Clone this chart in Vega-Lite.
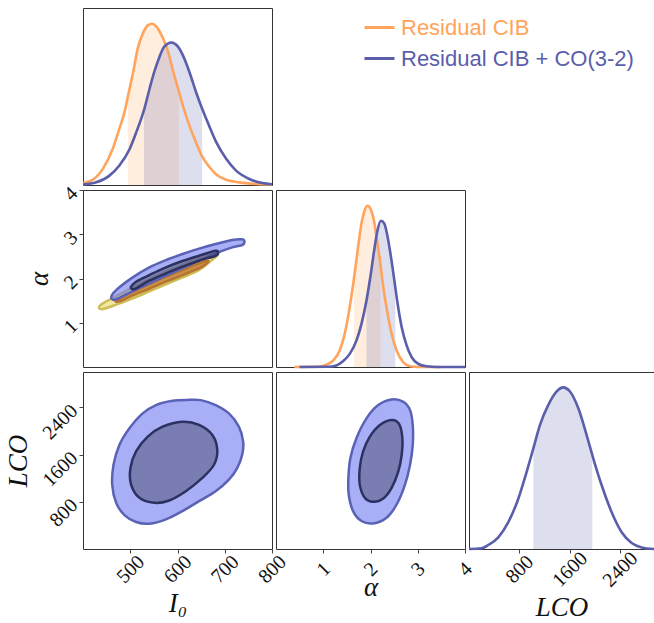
{
"$schema":"https://vega.github.io/schema/vega-lite/v6.json",
"padding":{"left":4,"top":7,"right":0,"bottom":0},
"background":"white",
"columns":3,
"bounds":"flush",
"spacing":{"row":5,"column":4},
"datasets":{
"m_i0":[
{"s":"Residual CIB","x":400,"d":0.011},{"s":"Residual CIB","x":421,"d":0.030},{"s":"Residual CIB","x":442,"d":0.091},{"s":"Residual CIB","x":463,"d":0.205},{"s":"Residual CIB","x":477,"d":0.318},{"s":"Residual CIB","x":488,"d":0.413},{"s":"Residual CIB","x":495,"d":0.50},{"s":"Residual CIB","x":506,"d":0.635},{"s":"Residual CIB","x":516,"d":0.773},{"s":"Residual CIB","x":527,"d":0.858},{"s":"Residual CIB","x":537,"d":0.902},{"s":"Residual CIB","x":546,"d":0.911},{"s":"Residual CIB","x":555,"d":0.896},{"s":"Residual CIB","x":569,"d":0.830},{"s":"Residual CIB","x":580,"d":0.754},{"s":"Residual CIB","x":590,"d":0.650},{"s":"Residual CIB","x":603,"d":0.527},{"s":"Residual CIB","x":611,"d":0.451},{"s":"Residual CIB","x":625,"d":0.337},{"s":"Residual CIB","x":639,"d":0.242},{"s":"Residual CIB","x":653,"d":0.157},{"s":"Residual CIB","x":668,"d":0.100},{"s":"Residual CIB","x":682,"d":0.059},{"s":"Residual CIB","x":703,"d":0.030},{"s":"Residual CIB","x":731,"d":0.015},{"s":"Residual CIB","x":766,"d":0.006},{"s":"Residual CIB","x":800,"d":0.002},
{"s":"Residual CIB + CO(3-2)","x":400,"d":0.002},{"s":"Residual CIB + CO(3-2)","x":428,"d":0.015},{"s":"Residual CIB + CO(3-2)","x":456,"d":0.053},{"s":"Residual CIB + CO(3-2)","x":477,"d":0.11},{"s":"Residual CIB + CO(3-2)","x":499,"d":0.205},{"s":"Residual CIB + CO(3-2)","x":513,"d":0.30},{"s":"Residual CIB + CO(3-2)","x":530,"d":0.432},{"s":"Residual CIB + CO(3-2)","x":541,"d":0.545},{"s":"Residual CIB + CO(3-2)","x":551,"d":0.640},{"s":"Residual CIB + CO(3-2)","x":562,"d":0.725},{"s":"Residual CIB + CO(3-2)","x":572,"d":0.782},{"s":"Residual CIB + CO(3-2)","x":587,"d":0.805},{"s":"Residual CIB + CO(3-2)","x":601,"d":0.782},{"s":"Residual CIB + CO(3-2)","x":611,"d":0.735},{"s":"Residual CIB + CO(3-2)","x":625,"d":0.640},{"s":"Residual CIB + CO(3-2)","x":639,"d":0.527},{"s":"Residual CIB + CO(3-2)","x":652,"d":0.432},{"s":"Residual CIB + CO(3-2)","x":668,"d":0.328},{"s":"Residual CIB + CO(3-2)","x":682,"d":0.242},{"s":"Residual CIB + CO(3-2)","x":703,"d":0.148},{"s":"Residual CIB + CO(3-2)","x":724,"d":0.081},{"s":"Residual CIB + CO(3-2)","x":752,"d":0.034},{"s":"Residual CIB + CO(3-2)","x":780,"d":0.011},{"s":"Residual CIB + CO(3-2)","x":800,"d":0.004}
],
"b_i0":[
{"s":"Residual CIB","x":495,"d":0.50},{"s":"Residual CIB","x":506,"d":0.635},{"s":"Residual CIB","x":516,"d":0.773},{"s":"Residual CIB","x":527,"d":0.858},{"s":"Residual CIB","x":537,"d":0.902},{"s":"Residual CIB","x":546,"d":0.911},{"s":"Residual CIB","x":555,"d":0.896},{"s":"Residual CIB","x":569,"d":0.830},{"s":"Residual CIB","x":580,"d":0.754},{"s":"Residual CIB","x":590,"d":0.650},{"s":"Residual CIB","x":603,"d":0.527},
{"s":"Residual CIB + CO(3-2)","x":529,"d":0.425},{"s":"Residual CIB + CO(3-2)","x":541,"d":0.545},{"s":"Residual CIB + CO(3-2)","x":551,"d":0.640},{"s":"Residual CIB + CO(3-2)","x":562,"d":0.725},{"s":"Residual CIB + CO(3-2)","x":572,"d":0.782},{"s":"Residual CIB + CO(3-2)","x":587,"d":0.805},{"s":"Residual CIB + CO(3-2)","x":601,"d":0.782},{"s":"Residual CIB + CO(3-2)","x":611,"d":0.735},{"s":"Residual CIB + CO(3-2)","x":625,"d":0.640},{"s":"Residual CIB + CO(3-2)","x":639,"d":0.527},{"s":"Residual CIB + CO(3-2)","x":652,"d":0.432}
],
"m_al":[
{"s":"Residual CIB","x":0.39,"d":0},{"s":"Residual CIB","x":0.9,"d":0.001},{"s":"Residual CIB","x":1.064,"d":0.013},{"s":"Residual CIB","x":1.206,"d":0.036},{"s":"Residual CIB","x":1.348,"d":0.093},{"s":"Residual CIB","x":1.454,"d":0.187},{"s":"Residual CIB","x":1.560,"d":0.338},{"s":"Residual CIB","x":1.645,"d":0.490},{"s":"Residual CIB","x":1.738,"d":0.679},{"s":"Residual CIB","x":1.809,"d":0.811},{"s":"Residual CIB","x":1.879,"d":0.887},{"s":"Residual CIB","x":1.936,"d":0.911},{"s":"Residual CIB","x":2.007,"d":0.890},{"s":"Residual CIB","x":2.071,"d":0.830},{"s":"Residual CIB","x":2.128,"d":0.735},{"s":"Residual CIB","x":2.199,"d":0.603},{"s":"Residual CIB","x":2.270,"d":0.452},{"s":"Residual CIB","x":2.362,"d":0.301},{"s":"Residual CIB","x":2.447,"d":0.187},{"s":"Residual CIB","x":2.553,"d":0.093},{"s":"Residual CIB","x":2.695,"d":0.026},{"s":"Residual CIB","x":2.837,"d":0.004},{"s":"Residual CIB","x":3.0,"d":0},{"s":"Residual CIB","x":3.5,"d":0},
{"s":"Residual CIB + CO(3-2)","x":0.5,"d":0},{"s":"Residual CIB + CO(3-2)","x":1.1,"d":0.001},{"s":"Residual CIB + CO(3-2)","x":1.277,"d":0.009},{"s":"Residual CIB + CO(3-2)","x":1.418,"d":0.032},{"s":"Residual CIB + CO(3-2)","x":1.560,"d":0.074},{"s":"Residual CIB + CO(3-2)","x":1.702,"d":0.149},{"s":"Residual CIB + CO(3-2)","x":1.809,"d":0.244},{"s":"Residual CIB + CO(3-2)","x":1.915,"d":0.376},{"s":"Residual CIB + CO(3-2)","x":2.007,"d":0.527},{"s":"Residual CIB + CO(3-2)","x":2.078,"d":0.660},{"s":"Residual CIB + CO(3-2)","x":2.149,"d":0.773},{"s":"Residual CIB + CO(3-2)","x":2.220,"d":0.826},{"s":"Residual CIB + CO(3-2)","x":2.291,"d":0.811},{"s":"Residual CIB + CO(3-2)","x":2.362,"d":0.735},{"s":"Residual CIB + CO(3-2)","x":2.433,"d":0.622},{"s":"Residual CIB + CO(3-2)","x":2.504,"d":0.490},{"s":"Residual CIB + CO(3-2)","x":2.574,"d":0.357},{"s":"Residual CIB + CO(3-2)","x":2.660,"d":0.225},{"s":"Residual CIB + CO(3-2)","x":2.766,"d":0.121},{"s":"Residual CIB + CO(3-2)","x":2.872,"d":0.055},{"s":"Residual CIB + CO(3-2)","x":3.014,"d":0.017},{"s":"Residual CIB + CO(3-2)","x":3.191,"d":0.004},{"s":"Residual CIB + CO(3-2)","x":3.4,"d":0},{"s":"Residual CIB + CO(3-2)","x":4.0,"d":0}
],
"b_al":[
{"s":"Residual CIB","x":1.652,"d":0.503},{"s":"Residual CIB","x":1.738,"d":0.679},{"s":"Residual CIB","x":1.809,"d":0.811},{"s":"Residual CIB","x":1.879,"d":0.887},{"s":"Residual CIB","x":1.936,"d":0.911},{"s":"Residual CIB","x":2.007,"d":0.890},{"s":"Residual CIB","x":2.071,"d":0.830},{"s":"Residual CIB","x":2.128,"d":0.735},{"s":"Residual CIB","x":2.213,"d":0.575},
{"s":"Residual CIB + CO(3-2)","x":1.915,"d":0.376},{"s":"Residual CIB + CO(3-2)","x":2.007,"d":0.527},{"s":"Residual CIB + CO(3-2)","x":2.078,"d":0.660},{"s":"Residual CIB + CO(3-2)","x":2.149,"d":0.773},{"s":"Residual CIB + CO(3-2)","x":2.220,"d":0.826},{"s":"Residual CIB + CO(3-2)","x":2.291,"d":0.811},{"s":"Residual CIB + CO(3-2)","x":2.362,"d":0.735},{"s":"Residual CIB + CO(3-2)","x":2.433,"d":0.622},{"s":"Residual CIB + CO(3-2)","x":2.504,"d":0.490},{"s":"Residual CIB + CO(3-2)","x":2.525,"d":0.452}
],
"m_l":[
{"s":"Residual CIB + CO(3-2)","x":0,"d":0},{"s":"Residual CIB + CO(3-2)","x":201,"d":0.004},{"s":"Residual CIB + CO(3-2)","x":307,"d":0.023},{"s":"Residual CIB + CO(3-2)","x":466,"d":0.066},{"s":"Residual CIB + CO(3-2)","x":625,"d":0.152},{"s":"Residual CIB + CO(3-2)","x":784,"d":0.284},{"s":"Residual CIB + CO(3-2)","x":917,"d":0.436},{"s":"Residual CIB + CO(3-2)","x":1023,"d":0.568},{"s":"Residual CIB + CO(3-2)","x":1129,"d":0.701},{"s":"Residual CIB + CO(3-2)","x":1261,"d":0.814},{"s":"Residual CIB + CO(3-2)","x":1394,"d":0.890},{"s":"Residual CIB + CO(3-2)","x":1499,"d":0.913},{"s":"Residual CIB + CO(3-2)","x":1605,"d":0.890},{"s":"Residual CIB + CO(3-2)","x":1738,"d":0.795},{"s":"Residual CIB + CO(3-2)","x":1870,"d":0.644},{"s":"Residual CIB + CO(3-2)","x":1976,"d":0.511},{"s":"Residual CIB + CO(3-2)","x":2109,"d":0.360},{"s":"Residual CIB + CO(3-2)","x":2268,"d":0.208},{"s":"Residual CIB + CO(3-2)","x":2427,"d":0.095},{"s":"Residual CIB + CO(3-2)","x":2586,"d":0.034},{"s":"Residual CIB + CO(3-2)","x":2744,"d":0.009},{"s":"Residual CIB + CO(3-2)","x":2941,"d":0.0}
],
"b_l":[
{"s":"Residual CIB + CO(3-2)","x":1023,"d":0.568},{"s":"Residual CIB + CO(3-2)","x":1129,"d":0.701},{"s":"Residual CIB + CO(3-2)","x":1261,"d":0.814},{"s":"Residual CIB + CO(3-2)","x":1394,"d":0.890},{"s":"Residual CIB + CO(3-2)","x":1499,"d":0.913},{"s":"Residual CIB + CO(3-2)","x":1605,"d":0.890},{"s":"Residual CIB + CO(3-2)","x":1738,"d":0.795},{"s":"Residual CIB + CO(3-2)","x":1870,"d":0.644},{"s":"Residual CIB + CO(3-2)","x":1960,"d":0.53}
],
"c_ia":[
{"c":"o2","x":433.7,"y":1.347},{"c":"o2","x":442.1,"y":1.438},{"c":"o2","x":470.2,"y":1.604},{"c":"o2","x":505.3,"y":1.800},{"c":"o2","x":540.4,"y":1.980},{"c":"o2","x":575.5,"y":2.154},{"c":"o2","x":610.5,"y":2.312},{"c":"o2","x":645.6,"y":2.455},{"c":"o2","x":677.2,"y":2.553},{"c":"o2","x":684.2,"y":2.530},{"c":"o2","x":677.2,"y":2.455},{"c":"o2","x":645.6,"y":2.191},{"c":"o2","x":610.5,"y":2.026},{"c":"o2","x":575.5,"y":1.867},{"c":"o2","x":540.4,"y":1.709},{"c":"o2","x":505.3,"y":1.551},{"c":"o2","x":470.2,"y":1.408},{"c":"o2","x":442.1,"y":1.310},
{"c":"o1","x":470.2,"y":1.513},{"c":"o1","x":505.3,"y":1.702},{"c":"o1","x":540.4,"y":1.875},{"c":"o1","x":575.5,"y":2.041},{"c":"o1","x":610.5,"y":2.191},{"c":"o1","x":645.6,"y":2.342},{"c":"o1","x":665.3,"y":2.402},{"c":"o1","x":652.6,"y":2.267},{"c":"o1","x":610.5,"y":2.078},{"c":"o1","x":575.5,"y":1.928},{"c":"o1","x":540.4,"y":1.769},{"c":"o1","x":505.3,"y":1.619},{"c":"o1","x":477.2,"y":1.483},
{"c":"b2","x":459.7,"y":1.573},{"c":"b2","x":470.2,"y":1.739},{"c":"b2","x":505.3,"y":2.026},{"c":"b2","x":540.4,"y":2.252},{"c":"b2","x":575.5,"y":2.417},{"c":"b2","x":610.5,"y":2.553},{"c":"b2","x":645.6,"y":2.674},{"c":"b2","x":680.7,"y":2.779},{"c":"b2","x":715.8,"y":2.870},{"c":"b2","x":736.9,"y":2.885},{"c":"b2","x":741.8,"y":2.832},{"c":"b2","x":736.9,"y":2.757},{"c":"b2","x":715.8,"y":2.704},{"c":"b2","x":680.7,"y":2.568},{"c":"b2","x":645.6,"y":2.402},{"c":"b2","x":610.5,"y":2.237},{"c":"b2","x":575.5,"y":2.063},{"c":"b2","x":540.4,"y":1.890},{"c":"b2","x":505.3,"y":1.717},{"c":"b2","x":470.2,"y":1.528},
{"c":"b1","x":501.8,"y":1.815},{"c":"b1","x":512.3,"y":1.928},{"c":"b1","x":540.4,"y":2.078},{"c":"b1","x":575.5,"y":2.252},{"c":"b1","x":610.5,"y":2.395},{"c":"b1","x":645.6,"y":2.515},{"c":"b1","x":680.7,"y":2.628},{"c":"b1","x":685.6,"y":2.568},{"c":"b1","x":680.7,"y":2.515},{"c":"b1","x":645.6,"y":2.402},{"c":"b1","x":610.5,"y":2.267},{"c":"b1","x":575.5,"y":2.116},{"c":"b1","x":540.4,"y":1.950},{"c":"b1","x":512.3,"y":1.777},{"c":"b1","x":503.9,"y":1.762}
],
"c_il":[
{"c":"b2","x":680.7,"y":2439},{"c":"b2","x":708.8,"y":2298},{"c":"b2","x":729.8,"y":2074},{"c":"b2","x":739.0,"y":1821},{"c":"b2","x":736.9,"y":1597},{"c":"b2","x":726.3,"y":1372},{"c":"b2","x":708.8,"y":1175},{"c":"b2","x":680.7,"y":979},{"c":"b2","x":645.6,"y":811},{"c":"b2","x":610.5,"y":642},{"c":"b2","x":575.5,"y":502},{"c":"b2","x":540.4,"y":429},{"c":"b2","x":512.3,"y":457},{"c":"b2","x":487.7,"y":575},{"c":"b2","x":470.2,"y":782},{"c":"b2","x":461.8,"y":1091},{"c":"b2","x":464.6,"y":1428},{"c":"b2","x":477.2,"y":1765},{"c":"b2","x":498.3,"y":2046},{"c":"b2","x":526.3,"y":2298},{"c":"b2","x":554.4,"y":2439},{"c":"b2","x":589.5,"y":2512},{"c":"b2","x":624.6,"y":2528},{"c":"b2","x":649.1,"y":2523},
{"c":"b1","x":610.5,"y":2158},{"c":"b1","x":645.6,"y":2102},{"c":"b1","x":673.7,"y":1933},{"c":"b1","x":684.2,"y":1681},{"c":"b1","x":677.2,"y":1428},{"c":"b1","x":652.6,"y":1204},{"c":"b1","x":617.6,"y":979},{"c":"b1","x":582.5,"y":822},{"c":"b1","x":550.9,"y":782},{"c":"b1","x":519.3,"y":867},{"c":"b1","x":501.8,"y":1091},{"c":"b1","x":500.4,"y":1372},{"c":"b1","x":512.3,"y":1653},{"c":"b1","x":536.9,"y":1905},{"c":"b1","x":568.4,"y":2074}
],
"c_al":[
{"c":"b2","x":2.447,"y":2534},{"c":"b2","x":2.695,"y":2495},{"c":"b2","x":2.837,"y":2354},{"c":"b2","x":2.894,"y":2102},{"c":"b2","x":2.894,"y":1765},{"c":"b2","x":2.837,"y":1428},{"c":"b2","x":2.730,"y":1091},{"c":"b2","x":2.553,"y":754},{"c":"b2","x":2.340,"y":530},{"c":"b2","x":2.057,"y":434},{"c":"b2","x":1.809,"y":474},{"c":"b2","x":1.631,"y":642},{"c":"b2","x":1.539,"y":923},{"c":"b2","x":1.532,"y":1204},{"c":"b2","x":1.574,"y":1540},{"c":"b2","x":1.702,"y":1877},{"c":"b2","x":1.915,"y":2214},{"c":"b2","x":2.163,"y":2439},
{"c":"b1","x":2.447,"y":2186},{"c":"b1","x":2.610,"y":2113},{"c":"b1","x":2.674,"y":1877},{"c":"b1","x":2.660,"y":1597},{"c":"b1","x":2.589,"y":1316},{"c":"b1","x":2.447,"y":1035},{"c":"b1","x":2.270,"y":855},{"c":"b1","x":2.057,"y":799},{"c":"b1","x":1.879,"y":867},{"c":"b1","x":1.773,"y":1091},{"c":"b1","x":1.773,"y":1372},{"c":"b1","x":1.844,"y":1653},{"c":"b1","x":1.986,"y":1905},{"c":"b1","x":2.199,"y":2102}
]
},
"concat":[
{"width":189,"height":177,
 "encoding":{"x":{"field":"x","type":"quantitative","scale":{"domain":[400,800],"nice":false,"zero":false},"axis":null},
  "y":{"field":"d","type":"quantitative","stack":null,"scale":{"domain":[0,1],"nice":false},"axis":null}},
 "layer":[
  {"data":{"name":"b_i0"},"transform":[{"filter":"datum.s==='Residual CIB'"}],"mark":{"type":"area","opacity":0.2,"fill":"#ffa45c","interpolate":"monotone"}},
  {"data":{"name":"b_i0"},"transform":[{"filter":"datum.s!=='Residual CIB'"}],"mark":{"type":"area","opacity":0.2,"fill":"#5a5eab","interpolate":"monotone"}},
  {"data":{"name":"m_i0"},"transform":[{"filter":"datum.s==='Residual CIB'"}],"mark":{"type":"line","strokeWidth":2.6,"interpolate":"monotone"},
   "encoding":{"color":{"field":"s","type":"nominal","scale":{"domain":["Residual CIB","Residual CIB + CO(3-2)"],"range":["#ffa45c","#5a5eab"]}}}},
  {"data":{"name":"m_i0"},"transform":[{"filter":"datum.s!=='Residual CIB'"}],"mark":{"type":"line","strokeWidth":2.6,"interpolate":"monotone"},
   "encoding":{"color":{"field":"s","type":"nominal","scale":{"domain":["Residual CIB","Residual CIB + CO(3-2)"],"range":["#ffa45c","#5a5eab"]}}}}
 ]},
{"width":189,"height":177,"view":{"stroke":null},"data":{"values":[]},"mark":"point","encoding":{}},
{"width":185,"height":177,"view":{"stroke":null},"data":{"values":[]},"mark":"point","encoding":{}},
{"width":189,"height":177,"data":{"name":"c_ia"},
 "encoding":{"x":{"field":"x","type":"quantitative","scale":{"domain":[400,800],"nice":false,"zero":false},"axis":null},
  "y":{"field":"y","type":"quantitative","scale":{"domain":[0,4],"nice":false,"zero":false},"axis":{"values":[1,2,3,4],"title":"α"}},
  "order":{"value":null}},
 "layer":[
  {"transform":[{"filter":"datum.c==='o2'"}],"mark":{"type":"line","interpolate":"cardinal-closed","fill":"rgba(238,226,135,0.8)","stroke":"#cdbd55","strokeWidth":2.5}},
  {"transform":[{"filter":"datum.c==='o1'"}],"mark":{"type":"line","interpolate":"cardinal-closed","fill":"rgba(185,105,40,0.7)","stroke":"#b8742e","strokeWidth":2.5}},
  {"transform":[{"filter":"datum.c==='b2'"}],"mark":{"type":"line","interpolate":"cardinal-closed","fill":"rgba(111,122,240,0.6)","stroke":"#5a62b5","strokeWidth":2.5}},
  {"transform":[{"filter":"datum.c==='b1'"}],"mark":{"type":"line","interpolate":"cardinal-closed","fill":"rgba(64,64,96,0.4)","stroke":"#2b3160","strokeWidth":2.5}}
 ]},
{"width":189,"height":177,
 "encoding":{"x":{"field":"x","type":"quantitative","scale":{"domain":[0,4],"nice":false,"zero":false},"axis":null},
  "y":{"field":"d","type":"quantitative","stack":null,"scale":{"domain":[0,1],"nice":false},"axis":null}},
 "layer":[
  {"data":{"name":"b_al"},"transform":[{"filter":"datum.s==='Residual CIB'"}],"mark":{"type":"area","opacity":0.2,"fill":"#ffa45c","interpolate":"monotone"}},
  {"data":{"name":"b_al"},"transform":[{"filter":"datum.s!=='Residual CIB'"}],"mark":{"type":"area","opacity":0.2,"fill":"#5a5eab","interpolate":"monotone"}},
  {"data":{"name":"m_al"},"transform":[{"filter":"datum.s==='Residual CIB'"}],"mark":{"type":"line","strokeWidth":2.6,"interpolate":"monotone"},
   "encoding":{"color":{"field":"s","type":"nominal","scale":{"domain":["Residual CIB","Residual CIB + CO(3-2)"],"range":["#ffa45c","#5a5eab"]}}}},
  {"data":{"name":"m_al"},"transform":[{"filter":"datum.s!=='Residual CIB'"}],"mark":{"type":"line","strokeWidth":2.6,"interpolate":"monotone"},
   "encoding":{"color":{"field":"s","type":"nominal","scale":{"domain":["Residual CIB","Residual CIB + CO(3-2)"],"range":["#ffa45c","#5a5eab"]}}}}
 ]},
{"width":185,"height":177,"view":{"stroke":null},"data":{"values":[]},"mark":"point","encoding":{}},
{"width":189,"height":177,"data":{"name":"c_il"},
 "encoding":{"x":{"field":"x","type":"quantitative","scale":{"domain":[400,800],"nice":false,"zero":false},"axis":{"values":[500,600,700,800],"title":"I₀"}},
  "y":{"field":"y","type":"quantitative","scale":{"domain":[0,3000],"nice":false,"zero":false},"axis":{"values":[800,1600,2400],"format":"d","title":"LCO"}},
  "order":{"value":null}},
 "layer":[
  {"transform":[{"filter":"datum.c==='b2'"}],"mark":{"type":"line","interpolate":"cardinal-closed","fill":"rgba(111,122,240,0.6)","stroke":"#5a62b5","strokeWidth":2.5}},
  {"transform":[{"filter":"datum.c==='b1'"}],"mark":{"type":"line","interpolate":"cardinal-closed","fill":"rgba(64,64,96,0.45)","stroke":"#2b3160","strokeWidth":2.5}}
 ]},
{"width":189,"height":177,"data":{"name":"c_al"},
 "encoding":{"x":{"field":"x","type":"quantitative","scale":{"domain":[0,4],"nice":false,"zero":false},"axis":{"values":[1,2,3,4],"title":"α","titlePadding":-5}},
  "y":{"field":"y","type":"quantitative","scale":{"domain":[0,3000],"nice":false,"zero":false},"axis":null},
  "order":{"value":null}},
 "layer":[
  {"transform":[{"filter":"datum.c==='b2'"}],"mark":{"type":"line","interpolate":"cardinal-closed","fill":"rgba(111,122,240,0.6)","stroke":"#5a62b5","strokeWidth":2.5}},
  {"transform":[{"filter":"datum.c==='b1'"}],"mark":{"type":"line","interpolate":"cardinal-closed","fill":"rgba(64,64,96,0.45)","stroke":"#2b3160","strokeWidth":2.5}}
 ]},
{"width":185,"height":177,
 "encoding":{"x":{"field":"x","type":"quantitative","scale":{"domain":[0,2941],"nice":false,"zero":false},"axis":{"values":[800,1600,2400],"format":"d","title":"LCO"}},
  "y":{"field":"d","type":"quantitative","stack":null,"scale":{"domain":[0,1],"nice":false},"axis":null}},
 "layer":[
  {"data":{"name":"b_l"},"mark":{"type":"area","opacity":0.2,"fill":"#5a5eab","interpolate":"monotone"}},
  {"data":{"name":"m_l"},"mark":{"type":"line","strokeWidth":2.6,"interpolate":"monotone"},
   "encoding":{"color":{"field":"s","type":"nominal","scale":{"domain":["Residual CIB","Residual CIB + CO(3-2)"],"range":["#ffa45c","#5a5eab"]}}}}
 ]}
],
"config":{
 "view":{"stroke":"#333","strokeWidth":1},
 "legend":{"orient":"none","legendX":280,"legendY":3,"title":null,"labelFont":"Liberation Sans","labelFontSize":22,"labelLimit":400,"labelColor":{"expr":"datum.value === 'Residual CIB' ? '#ffa45c' : '#5a5eab'"},"symbolType":"stroke","symbolSize":900,"symbolStrokeWidth":3,"labelOffset":5,"rowPadding":3,"padding":0},
 "axis":{"domain":false,"grid":false,"ticks":true,"tickSize":4,"tickColor":"#444","labelFont":"Liberation Serif","labelFontSize":20,"labelColor":"#111","labelAngle":-45,"labelOverlap":false,"labelFlush":false,"labelBound":false,"titleFont":"Liberation Serif","titleFontStyle":"italic","titleFontSize":27,"titleFontWeight":"normal","titleColor":"#111"},
 "axisX":{"labelAlign":"center","labelBaseline":"middle","labelPadding":16,"titlePadding":4},
 "axisY":{"labelAlign":"right","labelBaseline":"middle","labelPadding":5,"titlePadding":6}
}
}
